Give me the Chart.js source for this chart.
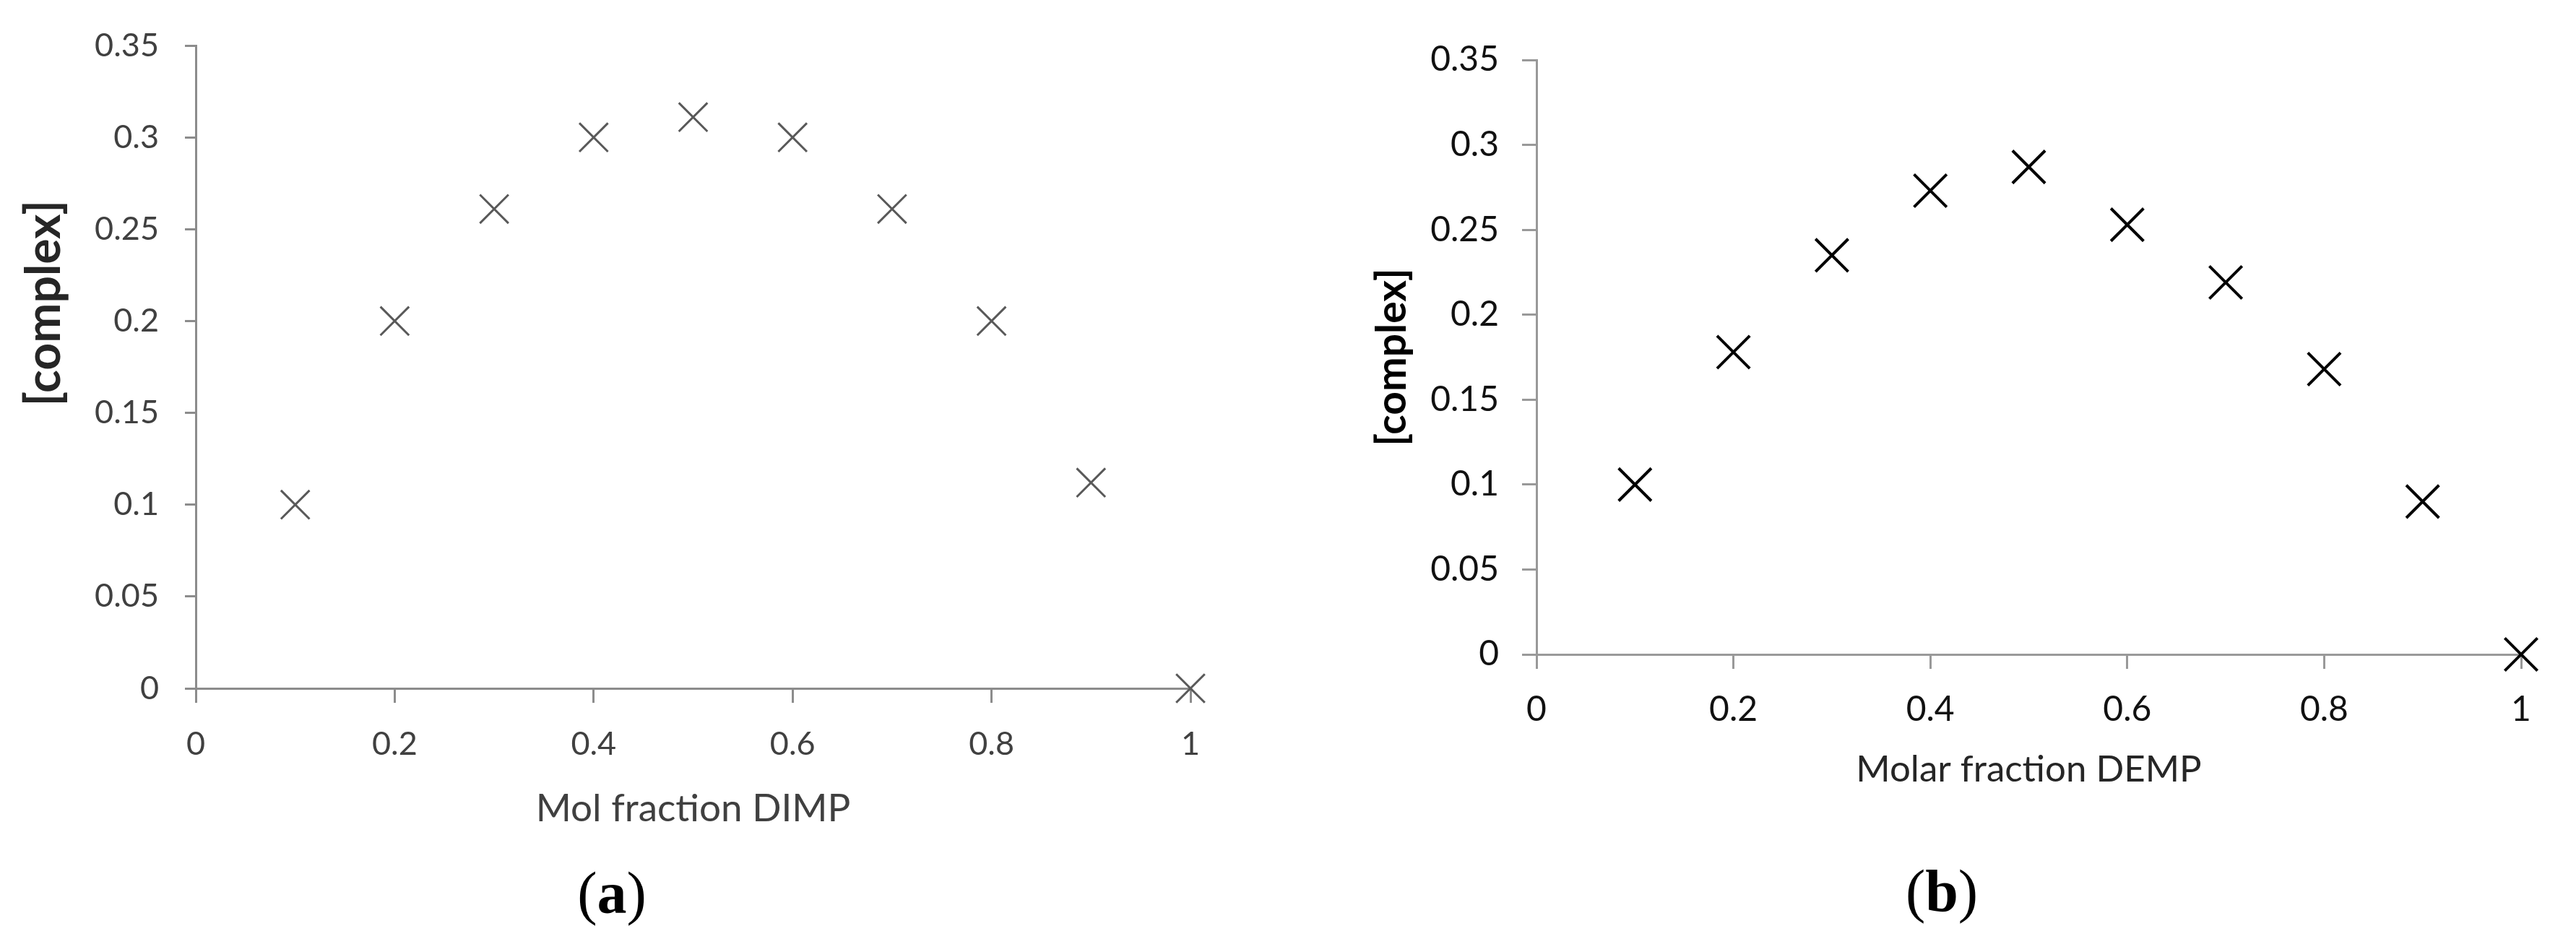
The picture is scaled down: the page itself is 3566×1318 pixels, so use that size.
<!DOCTYPE html>
<html lang="en">
<head>
  <meta charset="UTF-8">
  <title>Job plots: DIMP and DEMP complexes</title>
  <style>
    body {
      margin: 0;
      background: #fff;
      width: 3566px;
      height: 1318px;
      position: relative;
      overflow: hidden;
    }
    canvas { position: absolute; top: 0; }
    #chartA { left: 0; }
    #chartB { left: 1783px; }
    .caption {
      position: absolute;
      font-family: "Liberation Serif", "DejaVu Serif", serif;
      font-size: 82px;
      line-height: 1;
      color: #000;
      transform: translate(-50%, -50%);
    }
  </style>
</head>
<body>
  <canvas id="chartA" width="1783" height="1180"></canvas>
  <canvas id="chartB" width="1783" height="1180"></canvas>
  <div class="caption" style="left:847px; top:1237px">(<b>a</b>)</div>
  <div class="caption" style="left:2688px; top:1234px">(<b>b</b>)</div>

  <script src="https://cdn.jsdelivr.net/npm/chart.js"></script>
  <script>
    // Axis ticks (same for both panels)
    const xTickValues = [0, 0.2, 0.4, 0.6, 0.8, 1];
    const xTickLabels = ['0', '0.2', '0.4', '0.6', '0.8', '1'];
    const yTickValues = [0, 0.05, 0.1, 0.15, 0.2, 0.25, 0.3, 0.35];
    const yTickLabels = ['0', '0.05', '0.1', '0.15', '0.2', '0.25', '0.3', '0.35'];

    // (a) DIMP
    const molFractionDimp = [0.1, 0.2, 0.3, 0.4, 0.5, 0.6, 0.7, 0.8, 0.9, 1];
    const complexDimp = [0.1, 0.2, 0.261, 0.3, 0.311, 0.3, 0.261, 0.2, 0.112, 0];

    // (b) DEMP
    const molFractionDemp = [0.1, 0.2, 0.3, 0.4, 0.5, 0.6, 0.7, 0.8, 0.9, 1];
    const complexDemp = [0.1, 0.178, 0.235, 0.273, 0.287, 0.253, 0.219, 0.168, 0.09, 0];

    Chart.defaults.font.family = 'Lato, "Open Sans", sans-serif';

    // replace auto ticks with the fixed tick list
    function fixedTicks(values) {
      return scale => { scale.ticks = values.map(v => ({ value: v })); };
    }

    function makeChart(id, xs, ys, s) {
      const points = xs.map((x, i) => ({ x: x, y: ys[i] }));
      return new Chart(document.getElementById(id), {
        type: 'scatter',
        data: {
          datasets: [{
            data: points,
            pointStyle: 'crossRot',
            pointRadius: s.markerRadius,
            pointBorderWidth: s.markerWidth,
            pointBorderColor: s.markerColor,
            pointBackgroundColor: s.markerColor,
            pointHoverRadius: s.markerRadius,
            clip: false
          }]
        },
        options: {
          responsive: false,
          animation: false,
          events: [],
          layout: { padding: s.padding },
          plugins: { legend: { display: false }, tooltip: { enabled: false } },
          scales: {
            x: {
              type: 'linear',
              min: 0,
              max: 1,
              afterBuildTicks: fixedTicks(xTickValues),
              afterFit: scale => { scale.height = s.xHeight; },
              ticks: {
                callback: (v, i) => xTickLabels[i],
                maxRotation: 0,
                autoSkip: false,
                padding: s.xTickPad,
                color: s.tickColor,
                font: { size: s.tickSize }
              },
              grid: {
                drawOnChartArea: false,
                drawTicks: true,
                tickLength: 20,
                tickWidth: 3,
                tickColor: s.axisColor
              },
              border: { display: true, color: s.axisColor, width: 3 },
              title: {
                display: true,
                text: s.xTitle,
                color: s.titleColor,
                font: { size: s.xTitleSize },
                padding: 0
              }
            },
            y: {
              type: 'linear',
              min: 0,
              max: 0.35,
              afterBuildTicks: fixedTicks(yTickValues),
              afterFit: scale => { scale.width = s.yWidth; },
              ticks: {
                callback: (v, i) => yTickLabels[i],
                autoSkip: false,
                padding: s.yTickPad,
                color: s.tickColor,
                font: { size: s.tickSize }
              },
              grid: {
                drawOnChartArea: false,
                drawTicks: true,
                tickLength: s.yTickLen,
                tickWidth: 3,
                tickColor: s.axisColor
              },
              border: { display: true, color: s.axisColor, width: 3 },
              title: {
                display: true,
                text: s.yTitle,
                color: s.yTitleColor,
                font: { size: s.yTitleSize, weight: 'bold' },
                padding: { top: s.yTitlePad, bottom: 0 }
              }
            }
          }
        }
      });
    }

    makeChart('chartA', molFractionDimp, complexDimp, {
      padding: { left: 0, top: 58, right: 135, bottom: 28 },
      xHeight: 199,
      yWidth: 271,
      yTickLen: 15,
      yTickPad: 36,
      xTickPad: 30,
      tickSize: 45,
      tickColor: '#404040',
      axisColor: '#8c8c8c',
      titleColor: '#404040',
      xTitle: 'Mol fraction DIMP',
      xTitleSize: 53,
      // leading spaces lift the label toward 0.2, as in the original
      yTitle: '           [complex]',
      yTitleSize: 66,
      yTitlePad: 22,
      yTitleColor: '#262626',
      markerRadius: 28,
      markerWidth: 3,
      markerColor: '#595959'
    });

    makeChart('chartB', molFractionDemp, complexDemp, {
      padding: { left: 0, top: 83, right: 76, bottom: 84 },
      xHeight: 190,
      yWidth: 344,
      yTickLen: 20,
      yTickPad: 32,
      xTickPad: 28,
      tickSize: 48,
      tickColor: '#111111',
      axisColor: '#999999',
      titleColor: '#262626',
      xTitle: 'Molar fraction DEMP',
      xTitleSize: 51,
      yTitle: '[complex]',
      yTitleSize: 57,
      yTitlePad: 110,
      yTitleColor: '#000000',
      markerRadius: 32,
      markerWidth: 4,
      markerColor: '#000000'
    });
  </script>
</body>
</html>
